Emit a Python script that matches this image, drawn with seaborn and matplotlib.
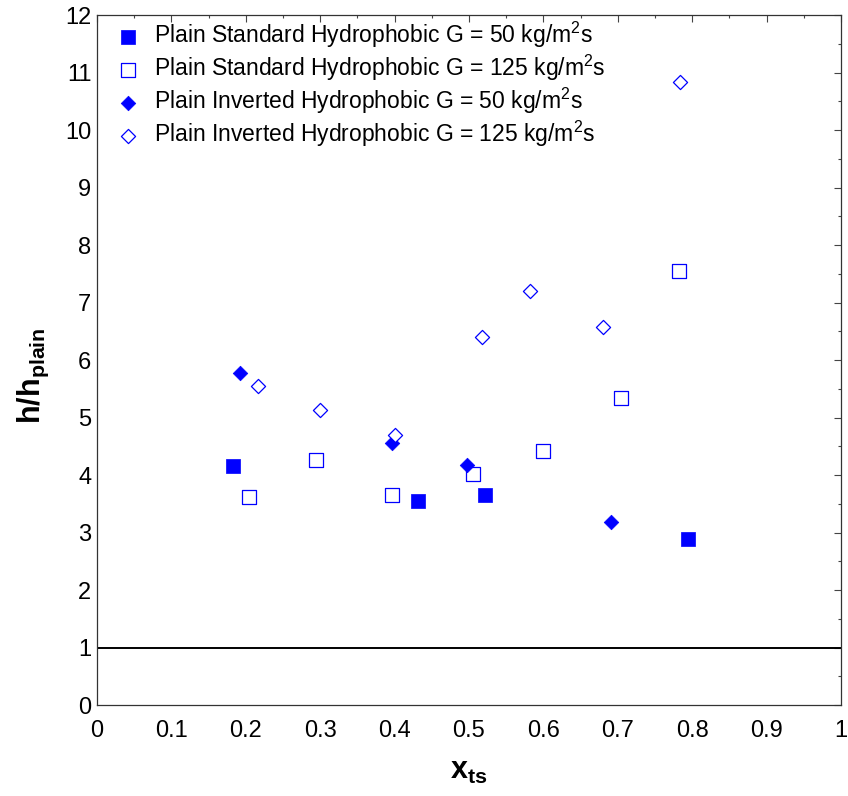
import matplotlib
matplotlib.use("Agg")
import seaborn as sns
import matplotlib.pyplot as plt
from matplotlib.ticker import MultipleLocator

# data
std50_x = [0.183, 0.431, 0.521, 0.795]
std50_y = [4.16, 3.55, 3.65, 2.88]
std125_x = [0.204, 0.295, 0.396, 0.505, 0.599, 0.705, 0.782]
std125_y = [3.62, 4.27, 3.66, 4.01, 4.41, 5.34, 7.54]
inv50_x = [0.192, 0.396, 0.497, 0.691]
inv50_y = [5.77, 4.55, 4.17, 3.18]
inv125_x = [0.217, 0.300, 0.401, 0.518, 0.582, 0.680, 0.783]
inv125_y = [5.54, 5.13, 4.70, 6.40, 7.20, 6.58, 10.84]

labels = ["Plain Standard Hydrophobic G = 50 kg/m$^2$s",
          "Plain Standard Hydrophobic G = 125 kg/m$^2$s",
          "Plain Inverted Hydrophobic G = 50 kg/m$^2$s",
          "Plain Inverted Hydrophobic G = 125 kg/m$^2$s"]
xtick_labels = ["0", "0.1", "0.2", "0.3", "0.4", "0.5", "0.6", "0.7", "0.8", "0.9", "1"]

sns.set_style("white")
plt.rcParams['font.family'] = ['Liberation Sans', 'DejaVu Sans']
plt.rcParams['text.color'] = 'black'
plt.rcParams['mathtext.fontset'] = 'custom'
plt.rcParams['mathtext.rm'] = 'Liberation Sans'
plt.rcParams['mathtext.bf'] = 'Liberation Sans:bold'
plt.rcParams['mathtext.default'] = 'regular'

fig = plt.figure(figsize=(8.48, 7.96), dpi=100)
ax = fig.add_axes([0.1144, 0.1143, 0.8773, 0.8668])

blue = "#0000ff"
sizes = [115, 105, 55, 52]
sns.scatterplot(x=std50_x, y=std50_y, marker="s", s=sizes[0], color=blue,
                edgecolor=blue, linewidth=0.5, ax=ax, label=labels[0], zorder=3)
sns.scatterplot(x=std125_x, y=std125_y, marker="s", s=sizes[1], facecolor="white",
                edgecolor=blue, linewidth=0.9, ax=ax, label=labels[1], zorder=3)
sns.scatterplot(x=inv50_x, y=inv50_y, marker="D", s=sizes[2], color=blue,
                edgecolor=blue, linewidth=0.5, ax=ax, label=labels[2], zorder=3)
sns.scatterplot(x=inv125_x, y=inv125_y, marker="D", s=sizes[3], facecolor="white",
                edgecolor=blue, linewidth=0.9, ax=ax, label=labels[3], zorder=3)

ax.axhline(1, color="black", linewidth=1.4, zorder=2)

ax.set_xlim(0, 1)
ax.set_ylim(0, 12)
ax.set_xticks([i / 10 for i in range(11)])
ax.set_xticklabels(xtick_labels)
ax.xaxis.set_minor_locator(MultipleLocator(0.05))
ax.yaxis.set_major_locator(MultipleLocator(1))
ax.yaxis.set_minor_locator(MultipleLocator(0.5))

ax.tick_params(which="both", direction="in", top=True, right=True, colors="#444444",
               labelcolor="black", labelsize=17)
ax.tick_params(which="major", length=5, width=0.8)
ax.tick_params(which="minor", length=2.5, width=0.8)
ax.tick_params(axis="x", which="major", pad=11)
ax.tick_params(axis="y", which="major", pad=4)
for sp in ax.spines.values():
    sp.set_color("#333333")
    sp.set_linewidth(0.9)

ax.set_xlabel(r"$\mathbf{x_{ts}}$", fontsize=22, labelpad=10, color="black")
ax.set_ylabel(r"$\mathbf{h/h_{plain}}$", fontsize=22, color="black")
ax.yaxis.set_label_coords(-0.062, 0.477)

leg = ax.legend(loc="upper left", bbox_to_anchor=(0.0167, 1.0), frameon=False,
                fontsize=16.5, handletextpad=0.55, labelspacing=0.12,
                borderaxespad=0.0, handlelength=1.2, borderpad=0.2)
for h, s in zip(leg.legend_handles, sizes):
    h.set_sizes([s])
for t in leg.get_texts():
    t.set_color("black")

fig.savefig("out.png", dpi=100)
